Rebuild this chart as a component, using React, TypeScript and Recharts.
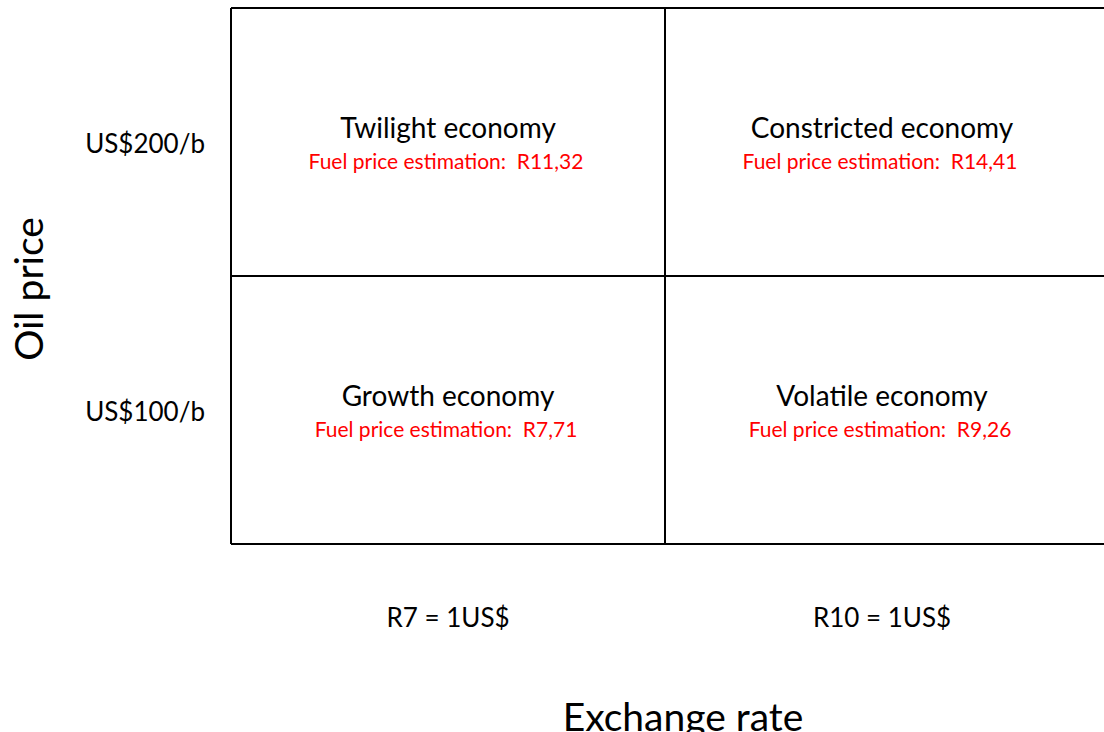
import { ReferenceLine, Scatter, ScatterChart, XAxis, YAxis } from "recharts";

// quadrant contents (x: exchange rate column, y: oil price row)
const quadrantNames = ["Growth economy", "Volatile economy", "Twilight economy", "Constricted economy"];
const fuelPrices = ["R7,71", "R9,26", "R11,32", "R14,41"];
const quadrantX = [0.5, 1.5, 0.5, 1.5];
const quadrantY = [0.5, 0.5, 1.5, 1.5];

const xTickLabels = ["R7 = 1US$", "R10 = 1US$"];
const yTickLabels = ["US$100/b", "US$200/b"];

const FONT = "Lato, 'Open Sans', sans-serif";

const data = quadrantNames.map((name, i) => ({
  x: quadrantX[i],
  y: quadrantY[i],
  name,
  price: fuelPrices[i],
}));

function QuadrantLabel(props: any) {
  const { cx, cy, payload } = props;
  if (cx == null || cy == null) return null;
  return (
    <g>
      <text x={cx} y={cy - 4} textAnchor="middle" fontSize={28} fill="#000" fontFamily={FONT}>
        {payload.name}
      </text>
      <text x={cx - 2} y={cy + 27} textAnchor="middle" fontSize={21} fill="#ff0000" fontFamily={FONT}>
        {`Fuel price estimation:\u00a0\u00a0${payload.price}`}
      </text>
    </g>
  );
}

function XTick(props: any) {
  const { x, y, payload } = props;
  return (
    <text x={x} y={y + 83} textAnchor="middle" fontSize={26} fill="#000" fontFamily={FONT}>
      {xTickLabels[Math.floor(payload.value)]}
    </text>
  );
}

function YTick(props: any) {
  const { x, y, payload } = props;
  return (
    <text x={x} y={y + 11} textAnchor="end" fontSize={26} fill="#000" fontFamily={FONT}>
      {yTickLabels[Math.floor(payload.value)]}
    </text>
  );
}

function OilLabel(props: any) {
  const vb = props.viewBox || {};
  const x = vb.x + 43;
  const y = vb.y + vb.height / 2 + 13;
  return (
    <text
      x={x}
      y={y}
      transform={`rotate(-90, ${x}, ${y})`}
      textAnchor="middle"
      fontSize={39}
      fill="#000"
      fontFamily={FONT}
    >
      Oil price
    </text>
  );
}

function ExchangeLabel(props: any) {
  const vb = props.viewBox || {};
  return (
    <text
      x={vb.x + vb.width / 2 + 18}
      y={vb.y + vb.height - 1}
      textAnchor="middle"
      fontSize={39}
      fill="#000"
      fontFamily={FONT}
    >
      Exchange rate
    </text>
  );
}

export default function App() {
  return (
    <div
      style={{
        position: "fixed",
        top: 0,
        left: 0,
        width: 1104,
        height: 732,
        overflow: "hidden",
        background: "#fff",
      }}
    >
      <ScatterChart width={1104} height={732} margin={{ top: 8, right: 5, left: 0, bottom: 0 }}>
        <XAxis
          dataKey="x"
          type="number"
          domain={[0, 2]}
          ticks={[0.5, 1.5]}
          axisLine={false}
          tickLine={false}
          tickSize={0}
          tickMargin={0}
          height={188}
          tick={XTick}
          label={{ content: ExchangeLabel }}
        />
        <YAxis
          dataKey="y"
          type="number"
          domain={[0, 2]}
          ticks={[0.5, 1.5]}
          axisLine={false}
          tickLine={false}
          tickSize={0}
          tickMargin={26}
          width={231}
          tick={YTick}
          label={{ content: OilLabel }}
        />
        <ReferenceLine
          segment={[{ x: 0, y: 2 }, { x: 2.02, y: 2 }]}
          stroke="#000"
          strokeWidth={2}
          ifOverflow="visible"
        />
        <ReferenceLine
          segment={[{ x: 0, y: 1 }, { x: 2.02, y: 1 }]}
          stroke="#000"
          strokeWidth={2}
          ifOverflow="visible"
        />
        <ReferenceLine
          segment={[{ x: 0, y: 0 }, { x: 2.02, y: 0 }]}
          stroke="#000"
          strokeWidth={2}
          ifOverflow="visible"
        />
        <ReferenceLine x={0} stroke="#000" strokeWidth={2} />
        <ReferenceLine x={1} stroke="#000" strokeWidth={2} />
        <Scatter data={data} shape={QuadrantLabel} isAnimationActive={false} />
      </ScatterChart>
    </div>
  );
}
